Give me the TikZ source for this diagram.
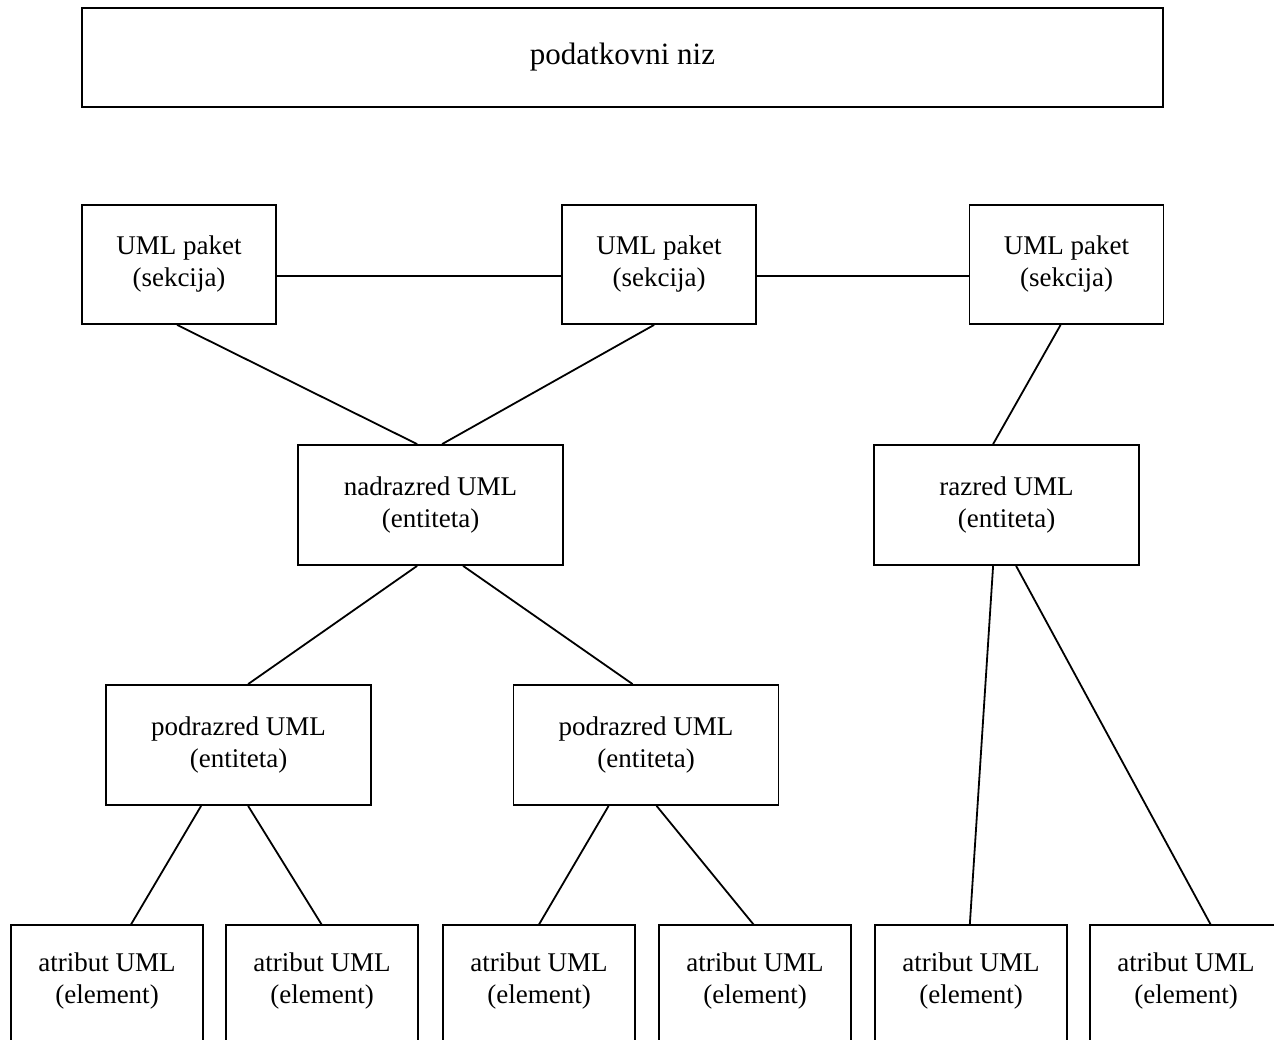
\documentclass[tikz,border=0pt]{standalone}
\usepackage{fontspec}
\setmainfont{Liberation Serif}
\usetikzlibrary{calc}
\begin{document}
\begin{tikzpicture}[x=1pt,y=-1pt,
  box/.style={draw,line width=1.8pt,rectangle,inner sep=0pt,align=center,
    font=\fontsize{27}{32}\selectfont},
  sbox/.style={box,minimum width=194pt,minimum height=119pt},
  ebox/.style={box,minimum width=265pt,minimum height=120pt},
  abox/.style={rectangle,inner sep=0pt,align=center,minimum width=192pt,minimum height=112pt,
    font=\fontsize{27}{32}\selectfont},
  conn/.style={line width=1.8pt}]
\useasboundingbox (0,0) rectangle (1274,1039);
\clip (0,0) rectangle (1274,1039);
\node[box,minimum width=1081pt,minimum height=99pt,font=\fontsize{31}{36}\selectfont] (top) at (622.5,57.5) {podatkovni niz};
\node[sbox] (p1) at (179,264.5) {UML paket\\(sekcija)};
\node[sbox] (p2) at (659,264.5) {UML paket\\(sekcija)};
\node[sbox] (p3) at (1066.5,264.5) {UML paket\\(sekcija)};
\node[ebox] (nad) at (430.5,505) {nadrazred UML\\(entiteta)};
\node[ebox] (raz) at (1006.5,505) {razred UML\\(entiteta)};
\node[ebox] (pod1) at (238.5,745) {podrazred UML\\(entiteta)};
\node[ebox] (pod2) at (646,745) {podrazred UML\\(entiteta)};
\foreach \n/\x in {a1/107,a2/322,a3/539,a4/755,a5/971,a6/1186}{
  \node[abox] (\n) at (\x,981) {atribut UML\\(element)};
}
\foreach \n in {a1,a2,a3,a4,a5}{
  \draw[line width=1.8pt] (\n.north west) rectangle ($(\n.south east)+(0,60)$);
}
\draw[line width=1.8pt] ($(a6.south west)+(0,60)$) -- (a6.north west) -- ($(a6.north east)+(20,0)$);
% horizontal links between packages
\draw[conn] ($(p1.north east)+(0,72)$) -- ($(p2.north west)+(0,72)$);
\draw[conn] ($(p2.north east)+(0,72)$) -- ($(p3.north west)+(0,72)$);
% packages to classes
\draw[conn] ($(p1.south west)+(96,0)$) -- ($(nad.north west)+(120,0)$);
\draw[conn] ($(p2.south west)+(93,0)$) -- ($(nad.north west)+(145,0)$);
\draw[conn] ($(p3.south west)+(92,0)$) -- ($(raz.north west)+(120,0)$);
% superclass to subclasses
\draw[conn] ($(nad.south west)+(120,0)$) -- ($(pod1.north west)+(143,0)$);
\draw[conn] ($(nad.south west)+(166,0)$) -- ($(pod2.north west)+(120,0)$);
% subclasses to attributes
\draw[conn] ($(pod1.south west)+(96,0)$) -- ($(a1.north west)+(120,0)$);
\draw[conn] ($(pod1.south west)+(143,0)$) -- ($(a2.north west)+(96,0)$);
\draw[conn] ($(pod2.south west)+(96,0)$) -- ($(a3.north west)+(96,0)$);
\draw[conn] ($(pod2.south west)+(144,0)$) -- ($(a4.north west)+(95,0)$);
% class to attributes
\draw[conn] ($(raz.south west)+(120,0)$) -- ($(a5.north west)+(95,0)$);
\draw[conn] ($(raz.south west)+(143,0)$) -- ($(a6.north west)+(121,0)$);
\end{tikzpicture}
\end{document}
